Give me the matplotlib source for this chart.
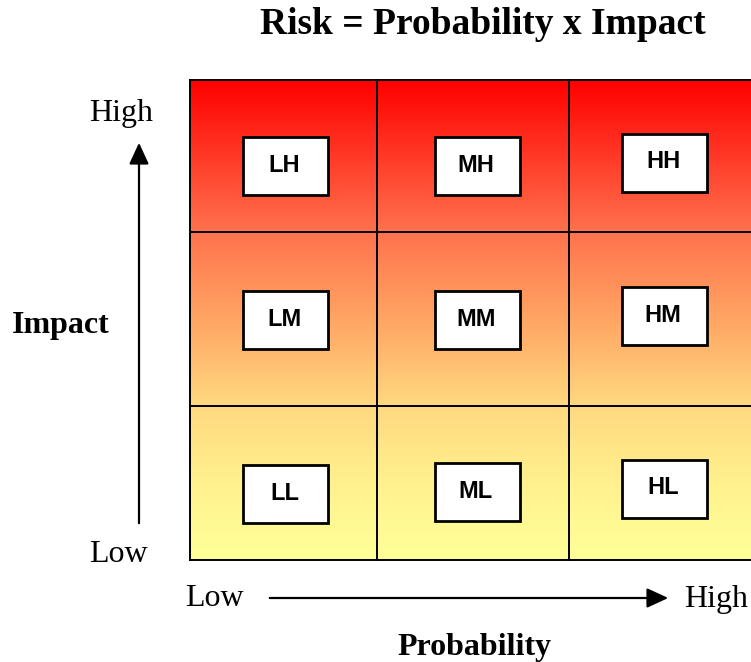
import numpy as np
import matplotlib
matplotlib.use("Agg")
import matplotlib.pyplot as plt
from matplotlib.colors import LinearSegmentedColormap
from matplotlib.patches import Rectangle

# chart content
title = "Risk = Probability x Impact"
prob_levels = ["L", "M", "H"]      # columns, left -> right
impact_levels = ["L", "M", "H"]    # rows, bottom -> top
x_label, y_label = "Probability", "Impact"
low_text, high_text = "Low", "High"

# layout in pixels (figure drawn on a 751x662 canvas)
W, H = 751, 662
col_edges = [190, 377, 569, 757]
row_edges = [560, 406, 232, 80]     # bottom -> top
# label box centres (px), per row (bottom -> top) then column
box_w, box_h = 85, 58
box_dx = [2, 4, 1]
box_cy = [[494, 492, 489], [320, 320, 316], [166, 166, 163]]

fig = plt.figure(figsize=(W / 100, H / 100), dpi=100)
ax = fig.add_axes([0, 0, 1, 1])
ax.set_xlim(0, W)
ax.set_ylim(H, 0)
ax.axis("off")

# background gradient red (top) -> pale yellow (bottom)
stops = [(0.0, (1.0, 0.0, 0.0)), (0.31, (1.0, 0.44, 0.30)),
         (0.5, (1.0, 0.65, 0.39)), (0.68, (1.0, 0.85, 0.50)),
         (0.85, (1.0, 0.95, 0.56)), (1.0, (1.0, 1.0, 0.60))]
cmap = LinearSegmentedColormap.from_list("risk", stops)
grad = np.linspace(0, 1, 256).reshape(-1, 1)
ax.imshow(grad, cmap=cmap, aspect="auto", interpolation="bilinear",
          extent=(col_edges[0], col_edges[-1], row_edges[0], row_edges[-1]),
          origin="upper", zorder=0)

# grid
for x in col_edges:
    ax.plot([x, x], [row_edges[0], row_edges[-1]], color="black", lw=1.4, zorder=2)
for y in row_edges:
    ax.plot([col_edges[0], col_edges[-1]], [y, y], color="black", lw=1.4, zorder=2)

# cell label boxes
for r, imp in enumerate(impact_levels):
    for c, prob in enumerate(prob_levels):
        cx = (col_edges[c] + col_edges[c + 1]) / 2 + box_dx[c]
        cy = box_cy[r][c]
        ax.add_patch(Rectangle((cx - box_w / 2, cy - box_h / 2), box_w, box_h,
                               facecolor="white", edgecolor="black", lw=2.0,
                               zorder=3))
        ax.text(cx - 1, cy - 1, prob + imp, ha="center", va="center",
                fontsize=17, fontweight="bold", family="Liberation Sans",
                zorder=4)

serif = "Liberation Serif"
ax.text(483, 25, title, ha="center", va="center", fontsize=27,
        fontweight="bold", family=serif)

# impact axis (vertical)
ax.annotate("", xy=(139, 140), xytext=(139, 526),
            arrowprops=dict(arrowstyle="-|>,head_length=1.3,head_width=0.6",
                            color="black", lw=1.6))
ax.text(121, 113, high_text, ha="center", va="center", fontsize=23, family=serif)
ax.text(118, 554, low_text, ha="center", va="center", fontsize=23, family=serif)
ax.text(61, 325, y_label, ha="center", va="center", fontsize=23,
        fontweight="bold", family=serif)

# probability axis (horizontal)
ax.annotate("", xy=(671, 598), xytext=(267, 598),
            arrowprops=dict(arrowstyle="-|>,head_length=1.3,head_width=0.6",
                            color="black", lw=1.6))
ax.text(214, 599, low_text, ha="center", va="center", fontsize=23, family=serif)
ax.text(716, 599, high_text, ha="center", va="center", fontsize=23, family=serif)
ax.text(474, 648, x_label, ha="center", va="center", fontsize=23,
        fontweight="bold", family=serif)

fig.savefig("out.png", dpi=100, facecolor="white")
